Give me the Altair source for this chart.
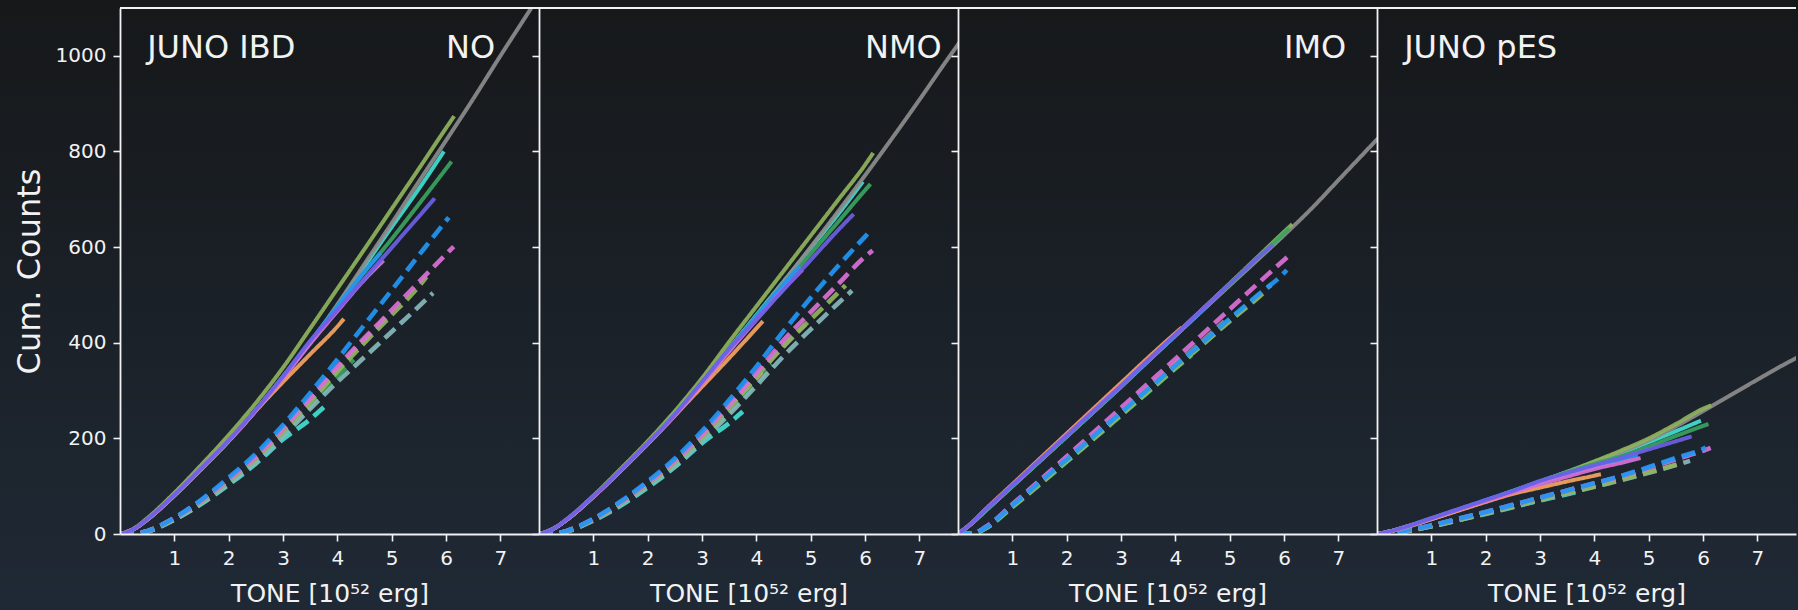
import altair as alt
import pandas as pd

# Total energy grid (10^52 erg) at which the cumulative counts are tabulated
ENERGY_GRID = [0, 0.25, 0.5, 1, 1.5, 2, 2.5, 3, 3.5, 4, 4.5, 5, 5.5, 6, 6.5, 7, 7.5, 7.75]

# Final total energy of each model (last point of every curve)
SOLID_END = {"cyan": 5.96, "gray": 7.75, "olive": 6.15, "green": 6.10,
             "dodger": 4.80, "orange": 4.12, "orchid": 4.85, "slate": 5.79}
DASHED_END = {"cyan": 3.75, "green": 4.30, "orange": 4.10, "gray": 4.90,
              "cadet": 5.76, "olive": 5.64, "orchid": 6.14, "dodger": 6.05}

SOLID_COLORS = {"cyan": "#40e0d0", "gray": "#8c8c8c", "olive": "#8fb35c", "green": "#3aa35f",
                "dodger": "#2196f3", "orange": "#f4a460", "orchid": "#da70d6", "slate": "#6a5fe6"}
DASHED_COLORS = {"cyan": "#40e0d0", "green": "#3aa35f", "orange": "#f4a460", "gray": "#8c8c8c",
                 "cadet": "#86b8bb", "olive": "#8fb35c", "orchid": "#da70d6", "dodger": "#2196f3"}

# JUNO IBD, normal ordering
NO_SOLID = {
    "cyan":   [0, 10, 30, 81, 137, 195, 259, 329, 401, 478, 560, 642, 722, 800],
    "gray":   [0, 10, 30, 80, 136, 194, 258, 328, 400, 480, 565, 650, 737, 823, 910, 1000, 1088, 1132],
    "olive":  [0, 11, 33, 86, 145, 207, 274, 348, 430, 513, 596, 680, 764, 849, 874],
    "green":  [0, 10, 30, 81, 137, 195, 259, 329, 401, 476, 548, 617, 690, 764, 779],
    "dodger": [0, 10, 30, 81, 137, 195, 259, 329, 402, 476, 549, 588],
    "orange": [0, 10, 30, 81, 137, 195, 258, 318, 376, 434, 450],
    "orchid": [0, 10, 30, 81, 137, 195, 258, 326, 398, 466, 532, 572],
    "slate":  [0, 10, 31, 82, 138, 196, 260, 330, 404, 469, 534, 599, 664, 702],
}
NO_DASHED = {
    "cyan":   [0, 0, 5, 30, 63, 103, 147, 198, 240, 265],
    "green":  [0, 0, 5, 31, 66, 108, 154, 208, 268, 330, 365],
    "orange": [0, 0, 6, 33, 69, 112, 159, 216, 278, 342, 355],
    "gray":   [0, 0, 6, 33, 70, 113, 160, 217, 280, 345, 406, 452],
    "cadet":  [0, 0, 5, 30, 64, 105, 150, 204, 262, 318, 370, 423, 476, 504],
    "olive":  [0, 0, 5, 32, 68, 111, 158, 214, 276, 340, 400, 458, 518, 538],
    "orchid": [0, 0, 6, 33, 70, 114, 162, 220, 284, 350, 410, 468, 527, 585, 601],
    "dodger": [0, 0, 6, 34, 72, 118, 168, 228, 295, 365, 438, 510, 583, 655, 662],
}

# JUNO IBD, normal mass ordering with MSW
NMO_SOLID = {
    "cyan":   [0, 10, 29, 78, 133, 190, 251, 318, 388, 458, 528, 598, 668, 737],
    "gray":   [0, 10, 29, 78, 132, 188, 248, 314, 384, 455, 527, 600, 674, 750, 828, 908, 990, 1030],
    "olive":  [0, 10, 30, 80, 136, 194, 257, 326, 402, 476, 550, 624, 698, 772, 797],
    "green":  [0, 10, 29, 78, 133, 190, 250, 317, 386, 455, 520, 586, 652, 719, 732],
    "dodger": [0, 10, 29, 78, 133, 190, 250, 317, 386, 455, 522, 560],
    "orange": [0, 10, 29, 78, 132, 189, 248, 308, 368, 430, 445],
    "orchid": [0, 10, 29, 78, 132, 189, 248, 314, 382, 448, 512, 553],
    "slate":  [0, 10, 30, 79, 133, 190, 250, 318, 387, 449, 511, 573, 635, 669],
}
NMO_DASHED = {
    "cyan":   [0, 0, 5, 28, 59, 97, 140, 190, 232, 256],
    "green":  [0, 0, 5, 29, 62, 102, 146, 198, 256, 318, 354],
    "orange": [0, 0, 6, 31, 65, 105, 151, 205, 265, 327, 339],
    "gray":   [0, 0, 6, 31, 66, 106, 152, 206, 267, 330, 392, 438],
    "cadet":  [0, 0, 5, 29, 61, 100, 143, 195, 250, 310, 372, 428, 482, 509],
    "olive":  [0, 0, 5, 30, 64, 104, 150, 203, 264, 330, 393, 449, 504, 520],
    "orchid": [0, 0, 6, 31, 66, 107, 153, 208, 270, 336, 405, 464, 522, 580, 593],
    "dodger": [0, 0, 6, 32, 68, 110, 158, 215, 280, 350, 424, 494, 560, 622, 628],
}

# JUNO IBD, inverted mass ordering with MSW
IMO_SOLID = {
    "cyan":   [0, 22, 48, 100, 152, 204, 256, 308, 362, 415, 468, 521, 574, 622],
    "gray":   [0, 22, 48, 100, 152, 204, 256, 308, 362, 415, 468, 520, 572, 625, 680, 740, 800, 830],
    "olive":  [0, 22, 48, 100, 152, 204, 256, 309, 363, 416, 470, 524, 578, 632, 648],
    "green":  [0, 22, 48, 100, 152, 204, 256, 309, 363, 416, 469, 522, 576, 629, 640],
    "dodger": [0, 22, 49, 101, 153, 205, 257, 309, 362, 415, 468, 500],
    "orange": [0, 23, 51, 104, 157, 210, 263, 316, 369, 420, 432],
    "orchid": [0, 23, 50, 102, 154, 207, 259, 311, 364, 417, 470, 507],
    "slate":  [0, 23, 50, 102, 154, 206, 258, 310, 364, 417, 470, 523, 576, 605],
}
IMO_DASHED = {
    "cyan":   [0, 0, 12, 57, 104, 152, 200, 249, 298, 322],
    "green":  [0, 0, 11, 56, 103, 151, 199, 248, 297, 346, 374],
    "orange": [0, 0, 13, 59, 107, 156, 205, 255, 305, 355, 367],
    "gray":   [0, 0, 12, 58, 106, 155, 204, 254, 304, 354, 404, 445],
    "cadet":  [0, 0, 12, 58, 105, 153, 202, 251, 300, 349, 398, 447, 496, 521],
    "olive":  [0, 0, 12, 57, 104, 152, 200, 249, 298, 347, 396, 445, 492, 506],
    "orchid": [0, 0, 14, 62, 112, 162, 213, 264, 315, 366, 418, 470, 522, 573, 587],
    "dodger": [0, 0, 13, 60, 108, 156, 205, 254, 303, 352, 400, 450, 498, 546, 552],
}

# JUNO proton elastic scattering
PES_SOLID = {
    "cyan":   [0, 6, 14, 32, 51, 70, 90, 110, 130, 150, 170, 192, 215, 237],
    "gray":   [0, 6, 14, 31, 50, 69, 89, 109, 129, 150, 172, 196, 225, 257, 290, 323, 355, 370],
    "olive":  [0, 6, 14, 31, 50, 69, 89, 109, 130, 152, 175, 200, 230, 262, 269],
    "green":  [0, 6, 14, 32, 51, 70, 90, 110, 129, 147, 163, 183, 205, 226, 230],
    "dodger": [0, 6, 14, 33, 52, 71, 90, 108, 125, 141, 156, 165],
    "orange": [0, 6, 13, 31, 49, 67, 84, 97, 110, 122, 125],
    "orchid": [0, 6, 14, 32, 51, 69, 87, 104, 120, 136, 149, 159],
    "slate":  [0, 6, 14, 33, 52, 71, 90, 111, 128, 144, 160, 177, 194, 204],
}
PES_DASHED = {
    "cyan":   [0, 0, 5, 16, 29, 42, 56, 70, 83, 90],
    "green":  [0, 0, 5, 16, 29, 43, 57, 71, 85, 99, 107],
    "orange": [0, 0, 6, 17, 30, 44, 58, 73, 88, 103, 107],
    "gray":   [0, 0, 6, 17, 31, 45, 59, 74, 89, 104, 119, 131],
    "cadet":  [0, 0, 5, 16, 29, 43, 57, 71, 85, 99, 113, 128, 144, 153],
    "olive":  [0, 0, 5, 17, 30, 44, 58, 72, 86, 100, 114, 129, 145, 150],
    "orchid": [0, 0, 6, 18, 32, 46, 61, 76, 91, 106, 121, 138, 156, 174, 180],
    "dodger": [0, 0, 6, 18, 32, 46, 61, 76, 91, 106, 122, 140, 159, 178, 181],
}

PANELS = [
    (NO_SOLID, NO_DASHED, "JUNO IBD", "NO"),
    (NMO_SOLID, NMO_DASHED, "", "NMO"),
    (IMO_SOLID, IMO_DASHED, "", "IMO"),
    (PES_SOLID, PES_DASHED, "JUNO pES", ""),
]

PANEL_W, PANEL_H = 419, 526
FONT = "DejaVu Sans"
WHITE = "#f2f2f2"

# series keys sort in draw order: dashed first, then solid
KEYS, KEY_COLORS = [], []
for i, name in enumerate(DASHED_COLORS):
    KEYS.append(f"k{i:02d}")
    KEY_COLORS.append(DASHED_COLORS[name])
for i, name in enumerate(SOLID_COLORS):
    KEYS.append(f"k{i + 10:02d}")
    KEY_COLORS.append(SOLID_COLORS[name])


def curve_rows(series, ends, style, offset):
    rows = []
    for i, (name, vals) in enumerate(series.items()):
        end = ends[name]
        xs = [g for g in ENERGY_GRID if g < end] + [end]
        assert len(xs) == len(vals), (name, style, len(xs), len(vals))
        key = f"k{i + offset:02d}"
        for x, y in zip(xs, vals):
            rows.append({"key": key, "style": style, "x": x, "y": y})
    return rows


dummy = pd.DataFrame({"d": [0]})
panels = []
for idx, (solid, dashed, left_label, right_label) in enumerate(PANELS):
    rows = curve_rows(dashed, DASHED_END, "dashed", 0) + curve_rows(solid, SOLID_END, "solid", 10)
    df = pd.DataFrame(rows)

    x_enc = alt.X("x:Q",
                  scale=alt.Scale(domain=[0, 7.71], nice=False, zero=False),
                  axis=alt.Axis(values=[1, 2, 3, 4, 5, 6, 7], title="TONE [10⁵² erg]",
                                grid=False, zindex=1, labelFontSize=20, titleFontSize=25,
                                titleFontWeight="normal", labelPadding=7, titlePadding=13,
                                tickSize=7, tickWidth=1.6, domainWidth=1.8,
                                domainColor=WHITE, tickColor=WHITE, labelColor=WHITE,
                                titleColor=WHITE, labelFont=FONT, titleFont=FONT))
    if idx == 0:
        y_axis = alt.Axis(values=[0, 200, 400, 600, 800, 1000], format="d", title="Cum. Counts",
                          grid=False, zindex=1, labelFontSize=20, titleFontSize=32,
                          titleFontWeight="normal", labelPadding=7, titlePadding=9,
                          tickSize=7, tickWidth=1.6, domainWidth=1.8,
                          domainColor=WHITE, tickColor=WHITE, labelColor=WHITE,
                          titleColor=WHITE, labelFont=FONT, titleFont=FONT)
    else:
        y_axis = alt.Axis(values=[0, 200, 400, 600, 800, 1000], title=None, labels=False,
                          grid=False, zindex=1, tickSize=7, tickWidth=1.6, domainWidth=1.8,
                          domainColor=WHITE, tickColor=WHITE)
    y_enc = alt.Y("y:Q", scale=alt.Scale(domain=[0, 1100], nice=False, zero=False), axis=y_axis)

    layers = []
    if idx == 0:
        # backdrop for the whole figure, vertical gradient
        layers.append(
            alt.Chart(dummy).mark_rect(
                fill=alt.LinearGradient(
                    gradient="linear",
                    stops=[alt.GradientStop(color="#16181a", offset=0),
                           alt.GradientStop(color="#1f2935", offset=1)],
                    x1=0, x2=0, y1=0, y2=1),
                strokeWidth=0,
            ).encode(x=alt.value(-120), x2=alt.value(1678), y=alt.value(-8), y2=alt.value(602))
        )

    layers.append(
        alt.Chart(df).mark_line(clip=True, interpolate="monotone",
                                strokeOpacity=0.92, strokeCap="butt").encode(
            x=x_enc, y=y_enc,
            color=alt.Color("key:N", scale=alt.Scale(domain=KEYS, range=KEY_COLORS), legend=None),
            strokeDash=alt.StrokeDash("style:N",
                                      scale=alt.Scale(domain=["solid", "dashed"],
                                                      range=[[1, 0], [14, 7]]),
                                      legend=None),
            strokeWidth=alt.StrokeWidth("style:N",
                                        scale=alt.Scale(domain=["solid", "dashed"],
                                                        range=[4, 4.6]),
                                        legend=None),
        )
    )

    labels = []
    if left_label:
        labels.append({"x": 0.5, "y": 995, "t": left_label})
    if right_label:
        labels.append({"x": 6.0, "y": 995, "t": right_label})
    layers.append(
        alt.Chart(pd.DataFrame(labels)).mark_text(
            align="left", baseline="alphabetic", fontSize=32, font=FONT, color=WHITE
        ).encode(x=x_enc, y=y_enc, text="t:N")
    )

    # top frame line
    layers.append(
        alt.Chart(dummy).mark_rule(color=WHITE, strokeWidth=1.8).encode(
            x=alt.value(0), x2=alt.value(PANEL_W), y=alt.value(0))
    )

    panels.append(alt.layer(*layers).properties(width=PANEL_W, height=PANEL_H))

chart = alt.hconcat(*panels, spacing=0, bounds="flush", padding=0).configure(
    background="#1b2129", font=FONT
).configure_view(stroke=None)

chart.save("out.html", embed_options={"renderer": "svg", "actions": False})
